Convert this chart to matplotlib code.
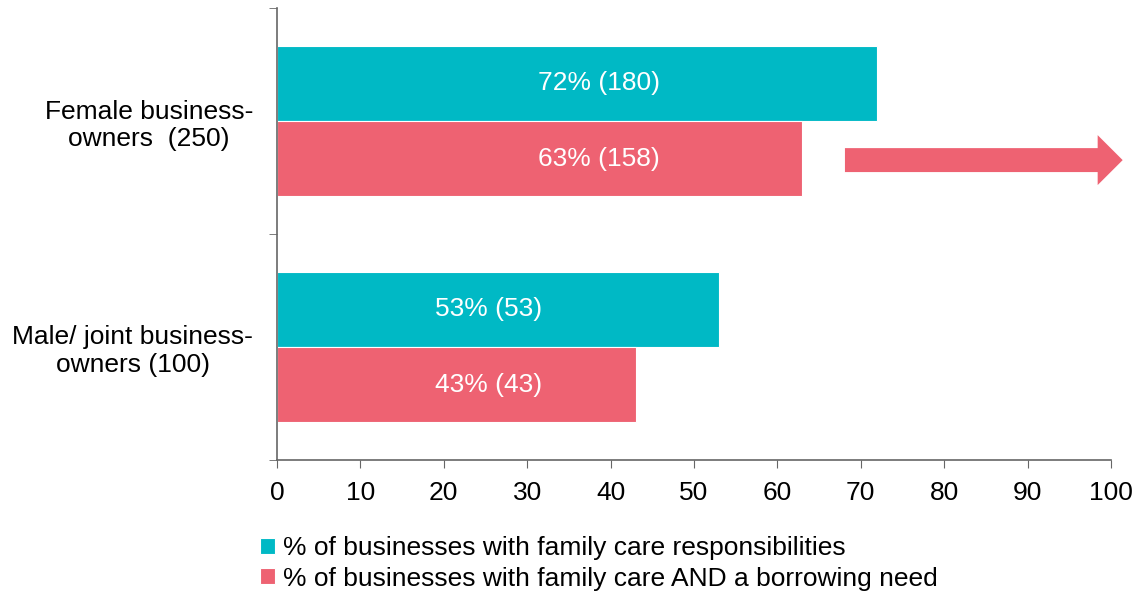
import matplotlib.pyplot as plt
from matplotlib.patches import FancyArrow

plt.rcParams['font.family'] = ['Liberation Sans', 'DejaVu Sans']

groups = ['Female business-\nowners  (250)', 'Male/ joint business-\nowners (100)']
care_pct = [72, 53]
care_n = [180, 53]
borrow_pct = [63, 43]
borrow_n = [158, 43]
series_names = ['% of businesses with family care responsibilities',
                '% of businesses with family care AND a borrowing need']

teal = '#00B9C5'
coral = '#EE6272'

# x where the value labels of each group sit (both bars share one column)
label_x = [38.6, 25.4]

fig = plt.figure(figsize=(11.36, 5.93), dpi=100)
ax = fig.add_axes([0.2438, 0.2243, 0.7342, 0.7622])

pos = list(range(len(groups)))
h = 0.332
b1 = ax.barh([p - h / 2 for p in pos], care_pct, height=h, color=teal,
             edgecolor='white', linewidth=0.8, label=series_names[0])
b2 = ax.barh([p + h / 2 for p in pos], borrow_pct, height=h, color=coral,
             edgecolor='white', linewidth=0.8, label=series_names[1])

for bars, pcts, ns in ((b1, care_pct, care_n), (b2, borrow_pct, borrow_n)):
    for bar, p, n, lx in zip(bars, pcts, ns, label_x):
        ax.text(lx, bar.get_y() + bar.get_height() / 2, f'{p}% ({n})',
                ha='center', va='center', color='white', fontsize=19)

ax.set_xlim(0, 100)
ax.set_ylim(1.5, -0.5)
ax.set_xticks(range(0, 101, 10))
ax.set_yticks(pos)
ax.set_yticklabels(groups, fontsize=19, ha='right', multialignment='center')
ax.set_yticks([-0.5, 0.5, 1.5], minor=True)
ax.tick_params(axis='y', which='major', length=0, pad=17)
ax.tick_params(axis='y', which='minor', length=6, direction='out', color='#666666')
ax.tick_params(axis='x', labelsize=19, length=6, direction='out', color='#666666', pad=9)

for s in ('top', 'right'):
    ax.spines[s].set_visible(False)
for s in ('left', 'bottom'):
    ax.spines[s].set_color('#666666')
    ax.spines[s].set_linewidth(1.2)

# arrow beside the female borrowing bar
ax.add_patch(FancyArrow(68.1, 0.173, 30.3, 0, width=0.106, head_width=0.221,
                        head_length=3.0, length_includes_head=False,
                        color=coral, clip_on=False, linewidth=0))

fig.legend(handles=[b1, b2], labels=series_names, loc='upper left',
           bbox_to_anchor=(0.229, 0.096), frameon=False, fontsize=19,
           handlelength=0.55, handleheight=0.55, handletextpad=0.3,
           labelspacing=0.25, borderaxespad=0, borderpad=0)

fig.savefig('out.png', dpi=100)
